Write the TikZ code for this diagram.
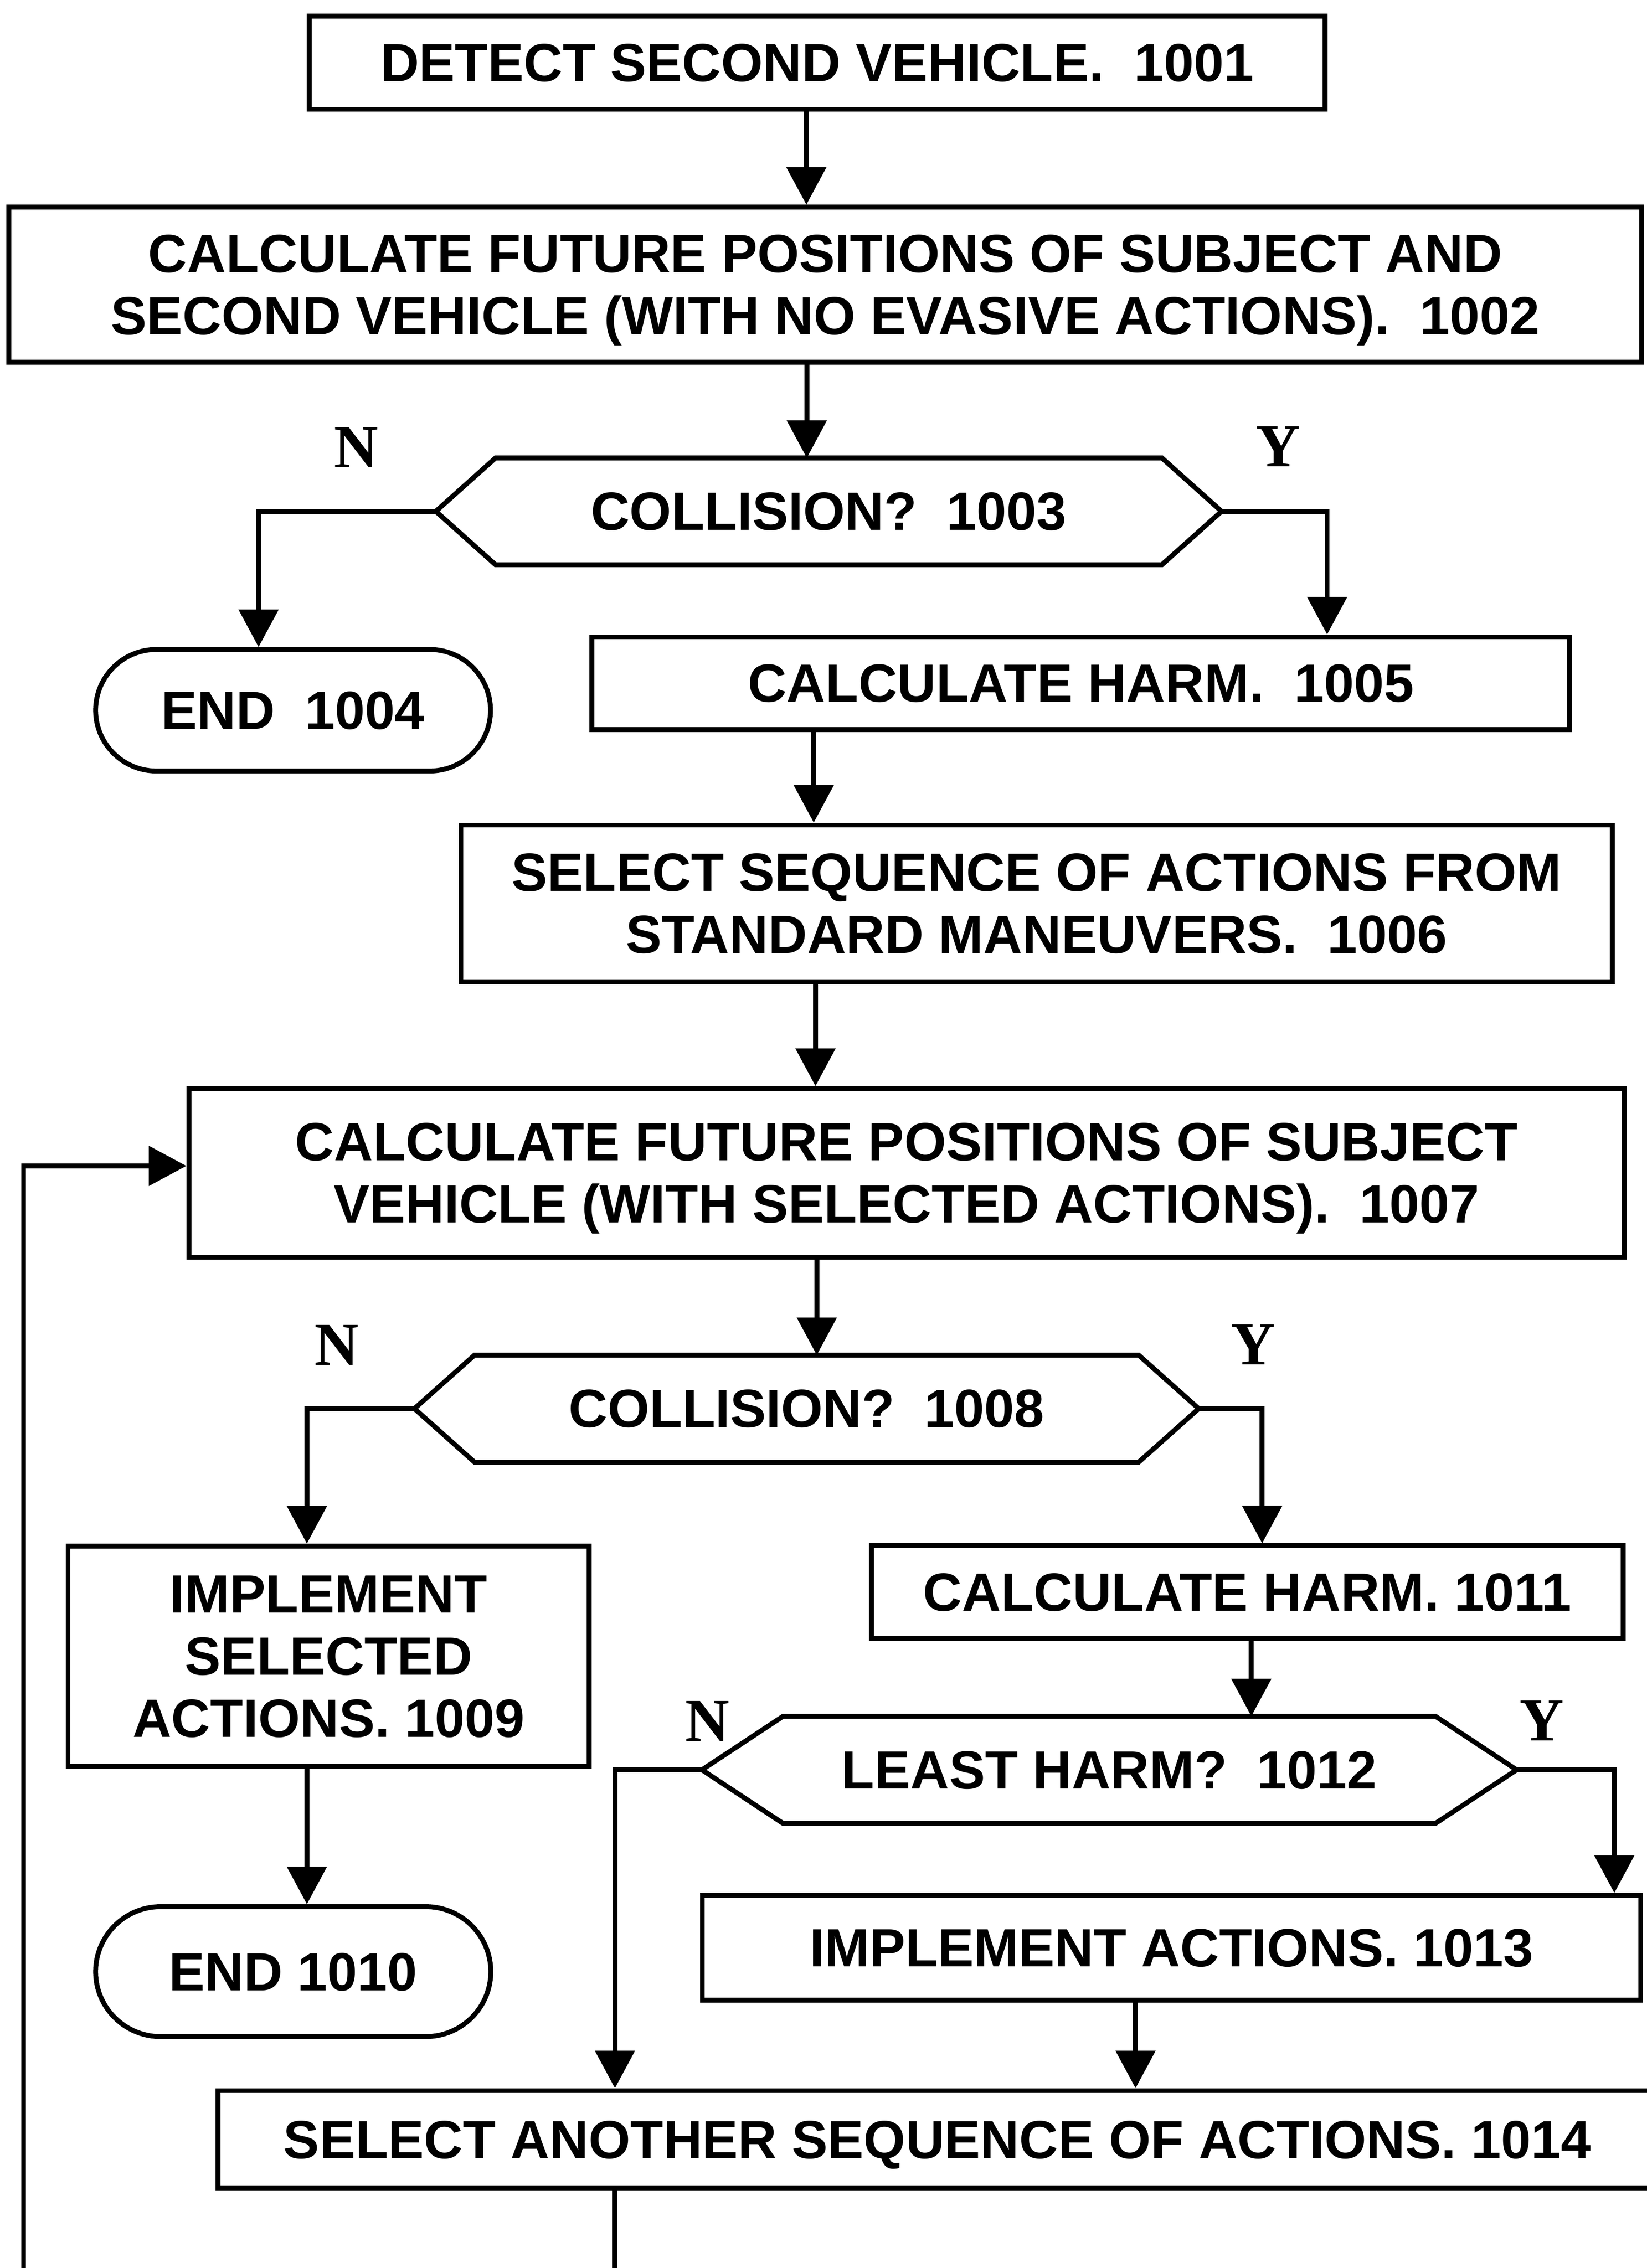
\documentclass[tikz,border=0pt]{standalone}
\usepackage{fontspec}
\setmainfont{Liberation Sans}
\newfontfamily\ynfont{Liberation Serif}
\usetikzlibrary{arrows.meta,shapes.misc}
\newcommand\drawhex[2]{\draw[lw] (#1.west) -- ([xshift=#2*0.025cm]#1.north west) -- ([xshift=-#2*0.025cm]#1.north east) -- (#1.east) -- ([xshift=-#2*0.025cm]#1.south east) -- ([xshift=#2*0.025cm]#1.south west) -- cycle;}
\begin{document}
\frenchspacing
\begin{tikzpicture}[x=0.025cm,y=-0.025cm,
  lw/.style={line width=2.4pt},
  every node/.style={font=\bfseries\fontsize{26.46pt}{30.6pt}\selectfont, align=center, inner sep=0pt, text depth=0pt},
  box/.style 2 args={draw, rectangle, lw, minimum width=#1*0.025cm, minimum height=#2*0.025cm},
  hexn/.style 2 args={rectangle, outer sep=0pt, minimum width=#1*0.025cm, minimum height=#2*0.025cm},
  endn/.style 2 args={draw, rounded rectangle, lw, minimum width=#1*0.025cm, minimum height=#2*0.025cm},
  yn/.style={font=\ynfont\bfseries\fontsize{30pt}{34pt}\selectfont},
  arr/.style={lw, -{Triangle[length=0.65cm,width=0.675cm]}}]
\fill[white] (0,0) rectangle (1138.1,1567.9);
\useasboundingbox (0,0) rectangle (1138.1,1567.9);

% nodes
\node[box={702.2}{64.5}] (n1001) at (564.7,43.3) {DETECT SECOND VEHICLE.\ \ 1001};
\node[box={1128.3}{107.1}] (n1002) at (570.35,196.75) {CALCULATE FUTURE POSITIONS OF SUBJECT AND\\SECOND VEHICLE (WITH NO EVASIVE ACTIONS).\ \ 1002};
\node[hexn={543}{73.8}] (n1003) at (572.75,353.5) {COLLISION?\ \ 1003};
\drawhex{n1003}{41.2}
\node[endn={272.9}{84}] (n1004) at (202.55,491) {END\ \ 1004};
\node[box={675.8}{64.1}] (n1005) at (747,472.35) {CALCULATE HARM.\ \ 1005};
\node[box={795.6}{108.3}] (n1006) at (716.4,624.55) {SELECT SEQUENCE OF ACTIONS FROM\\STANDARD MANEUVERS.\ \ 1006};
\node[box={991.9}{116.7}] (n1007) at (626.45,810.85) {CALCULATE FUTURE POSITIONS OF SUBJECT\\VEHICLE (WITH SELECTED ACTIONS).\ \ 1007};
\node[hexn={542}{74}] (n1008) at (557.45,973.8) {COLLISION?\ \ 1008};
\drawhex{n1008}{41.5}
\node[box={360.2}{152.4}] (n1009) at (227.1,1145) {IMPLEMENT\\SELECTED\\ACTIONS. 1009};
\node[endn={273.1}{89.8}] (n1010) at (202.65,1363) {END 1010};
\node[box={519.6}{64.1}] (n1011) at (862,1100.65) {CALCULATE HARM. 1011};
\node[hexn={563}{74}] (n1012) at (766.65,1223.5) {LEAST HARM?\ \ 1012};
\drawhex{n1012}{56}
\node[box={648.5}{72.3}] (n1013) at (809.65,1346.45) {IMPLEMENT ACTIONS. 1013};
\node[box={994}{67.6}] (n1014) at (647.7,1479.1) {SELECT ANOTHER SEQUENCE OF ACTIONS. 1014};

% branch labels
\node[yn] (lN3) at (246.3,309.3) {N};
\node[yn] (lY3) at (883.3,308.8) {Y};
\node[yn] (lN8) at (232.7,930) {N};
\node[yn] (lY8) at (866,929.6) {Y};
\node[yn] (lN12) at (489,1189.7) {N};
\node[yn] (lY12) at (1065.4,1189.5) {Y};

% connector x positions
\coordinate (x1) at (557.3,0);
\coordinate (x2) at (557.6,0);
\coordinate (x3n) at (178.7,0);
\coordinate (x3y) at (917.2,0);
\coordinate (x5) at (562.4,0);
\coordinate (x6) at (563.6,0);
\coordinate (x7) at (564.5,0);
\coordinate (x8n) at (212.1,0);
\coordinate (x8y) at (872.3,0);
\coordinate (x9) at (212.1,0);
\coordinate (x11) at (864.8,0);
\coordinate (x12n) at (425,0);
\coordinate (x12y) at (1115.7,0);
\coordinate (x13) at (784.8,0);
\coordinate (loopS) at (16.3,1590);
\coordinate (loopY) at (0,806);
\coordinate (botS) at (424.8,1590);

% connectors
\draw[arr] (n1001.south -| x1) -- (n1002.north -| x1);
\draw[arr] (n1002.south -| x2) -- (n1003.north -| x2);
\draw[arr] (n1003.west) -| (n1004.north -| x3n);
\draw[arr] (n1003.east) -| (n1005.north -| x3y);
\draw[arr] (n1005.south -| x5) -- (n1006.north -| x5);
\draw[arr] (n1006.south -| x6) -- (n1007.north -| x6);
\draw[arr] (n1007.south -| x7) -- (n1008.north -| x7);
\draw[arr] (n1008.west) -| (n1009.north -| x8n);
\draw[arr] (n1008.east) -| (n1011.north -| x8y);
\draw[arr] (n1009.south -| x9) -- (n1010.north -| x9);
\draw[arr] (n1011.south -| x11) -- (n1012.north -| x11);
\draw[arr] (n1012.west) -| (n1014.north -| x12n);
\draw[arr] (n1012.east) -| (n1013.north -| x12y);
\draw[arr] (n1013.south -| x13) -- (n1014.north -| x13);
\draw[lw] (n1014.south -| botS) -- (botS);
\draw[arr] (loopS) |- (n1007.west |- loopY);
\end{tikzpicture}
\end{document}
